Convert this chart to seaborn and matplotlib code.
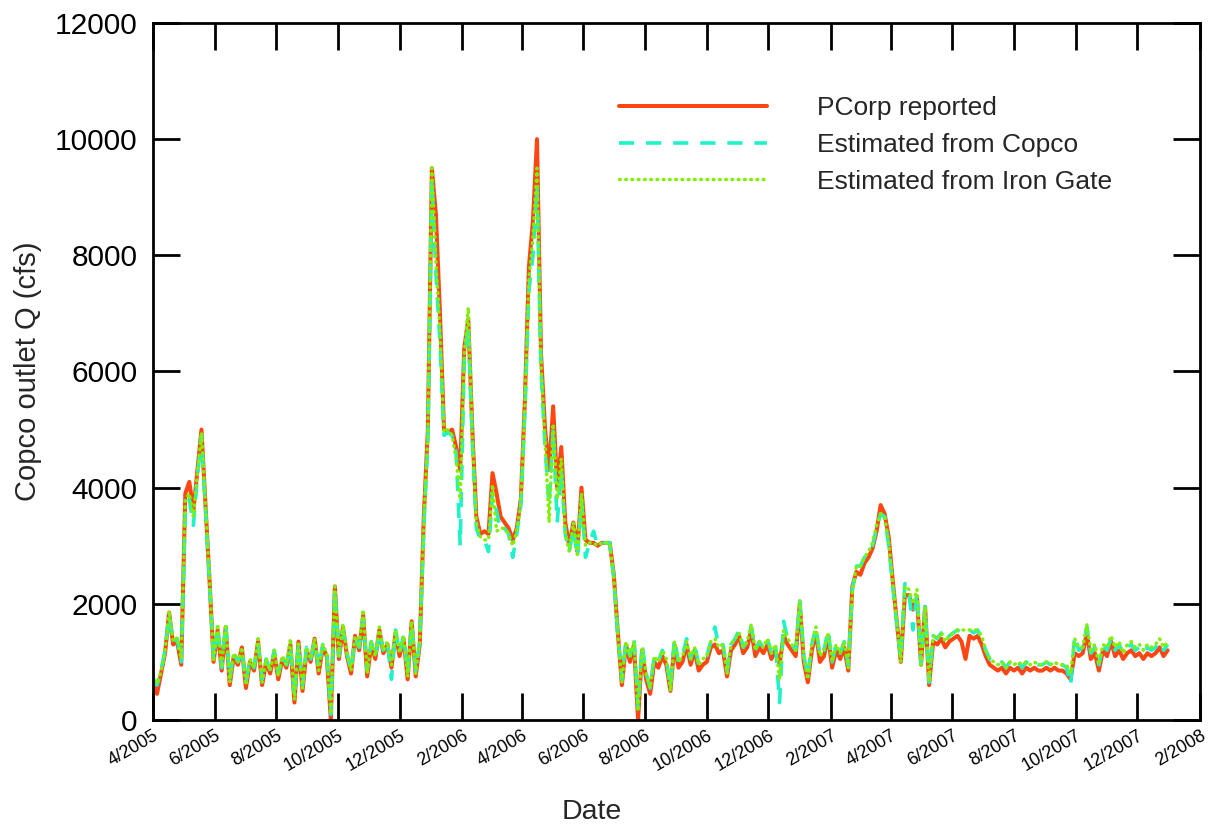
import pandas as pd
import seaborn as sns
import matplotlib.pyplot as plt
import matplotlib.dates as mdates
from matplotlib.ticker import FuncFormatter

# Copco outlet flow (cfs), values every 4 days from 4/1/2005
pcorp = [
    700, 450, 800, 1150, 1850, 1300, 1350, 950, 3900, 4100,
    3600, 4300, 5000, 3700, 2400, 1000, 1550, 850, 1600, 600,
    1100, 950, 1250, 550, 1000, 850, 1350, 600, 1000, 800,
    1150, 700, 1050, 900, 1300, 300, 1350, 500, 1200, 1000,
    1400, 800, 1250, 1100, 0, 2300, 1050, 1600, 1100, 800,
    1450, 1200, 1800, 750, 1300, 1050, 1550, 1150, 1300, 900,
    1500, 1100, 1400, 700, 1700, 750, 1300, 3500, 5000, 9500,
    8700, 7000, 5000, 4950, 5000, 4700, 4300, 6400, 6900, 5000,
    3500, 3200, 3250, 3200, 4250, 3900, 3500, 3400, 3300, 3100,
    3300, 3800, 5500, 7800, 8600, 10000, 6300, 5000, 4300, 5400,
    4000, 4700, 3400, 3000, 3400, 2900, 4000, 3100, 3050, 3050,
    3000, 3050, 3050, 3050, 2500, 1500, 600, 1300, 1000, 1300,
    0, 1200, 700, 450, 1000, 900, 1100, 950, 500, 1300,
    900, 1000, 1300, 950, 1200, 850, 950, 1000, 1250, 1300,
    1150, 1200, 750, 1200, 1300, 1450, 1150, 1250, 1550, 1100,
    1250, 1150, 1300, 1050, 1200, 950, 1450, 1300, 1200, 1100,
    2000, 1000, 650, 1200, 1500, 1000, 1100, 1450, 900, 1200,
    1050, 1250, 850, 2300, 2550, 2500, 2700, 2800, 2950, 3250,
    3700, 3550, 3150, 2400, 1700, 1000, 2150, 2150, 1900, 2100,
    950, 1950, 600, 1350, 1300, 1400, 1250, 1350, 1400, 1450,
    1350, 1050, 1450, 1400, 1450, 1300, 1100, 950, 900, 850,
    900, 800, 900, 850, 900, 800, 900, 850, 900, 850,
    850, 900, 850, 900, 850, 850, 800, 700, 1150, 1100,
    1150, 1500, 1050, 1150, 850, 1200, 1100, 1350, 1100, 1200,
    1050, 1150, 1200, 1100, 1150, 1050, 1150, 1100, 1150, 1250,
    1100, 1200,
]

copco = [
    720, 600, 850, 1200, 1800, 1330, 1400, 1000, 3600, 3800,
    3350, 4200, 4900, 3650, 2350, 1050, 1600, 900, 1650, 700,
    1150, 1000, 1200, 650, 1050, 900, 1300, 700, 1050, 850,
    1200, 800, 1100, 950, 1250, 400, 1300, 600, 1250, 1050,
    1350, 900, 1300, 1150, 100, 2250, 1100, 1550, 1150, 850,
    1400, 1250, 1750, 850, 1350, 1100, 1500, 1200, 1350, 700,
    1550, 1150, 1450, 800, 1650, 850, 1350, 3300, 4800, 9300,
    7700, 6500, 4900, 4950, 4900, 4600, 3000, 6200, 6800, 4800,
    3300, 3100, 3100, 2900, 3900, 3600, 3250, 3300, 3200, 2800,
    3200, 3700, 5300, 7400, 8000, 9200, 6000, 4700, 3700, 5000,
    3400, 4300, 3200, 2900, 3300, 2800, 3800, 2800, 3050, 3250,
    3000, 3050, 3050, 3050, 2450, 1450, 700, 1350, 1100, 1400,
    200, 1300, 800, 550, 1100, 1000, 1200, 1050, 550, 1400,
    1000, 1100, 1400, 1050, 1300, 950, 1050, 1100, 1350, 1600,
    1250, 1300, 850, 1300, 1400, 1550, 1250, 1350, 1600, 1200,
    1350, 1250, 1400, 1150, 1300, 300, 1700, 1400, 1300, 1200,
    2050, 1100, 750, 1300, 1600, 1100, 1200, 1550, 1000, 1300,
    1150, 1350, 950, 2250, 2650, 2650, 2800, 2850, 3000, 3300,
    3550, 3500, 3000, 2300, 1650, 1050, 2350, 2200, 1550, 2200,
    950, 1950, 650, 1450, 1400, 1500, 1350, 1450, 1500, 1550,
    1500, 1500, 1550, 1500, 1550, 1400, 1200, 1050, 1000, 950,
    1000, 900, 1000, 950, 1000, 900, 1000, 950, 1000, 950,
    950, 1000, 950, 1000, 950, 950, 900, 600, 1450, 1200,
    1250, 1600, 1150, 1250, 950, 1300, 1200, 1400, 1200, 1300,
    1150, 1250, 1300, 1200, 1250, 1150, 1250, 1200, 1250, 1350,
    1200, 1300,
]

iron_gate = [
    760, 620, 830, 1180, 1880, 1350, 1420, 1050, 3800, 3900,
    3500, 4250, 4950, 3700, 2400, 1000, 1650, 900, 1650, 650,
    1150, 1000, 1250, 600, 1050, 900, 1400, 650, 1050, 850,
    1200, 750, 1100, 950, 1400, 350, 1350, 550, 1250, 1050,
    1400, 850, 1300, 1150, 100, 2300, 1100, 1650, 1150, 850,
    1450, 1250, 1900, 800, 1350, 1100, 1600, 1200, 1350, 950,
    1550, 1150, 1450, 750, 1700, 800, 1350, 3400, 4900, 9500,
    7900, 6700, 4950, 5000, 4900, 4500, 3800, 6300, 7100, 4900,
    3400, 3150, 3100, 3100, 4050, 3250, 3300, 3300, 3200, 3000,
    3250, 3750, 5400, 7600, 8300, 9500, 6100, 4800, 3400, 5100,
    3800, 4500, 3200, 2900, 3400, 2850, 3900, 3000, 3050, 3050,
    3000, 3050, 3050, 3050, 2450, 1450, 650, 1350, 1100, 1350,
    150, 1250, 800, 550, 1100, 1000, 1200, 1050, 500, 1350,
    1000, 1100, 1350, 1050, 1250, 950, 1050, 1100, 1350, 1400,
    1250, 1300, 800, 1300, 1400, 1500, 1250, 1350, 1650, 1200,
    1350, 1250, 1400, 1150, 1300, 700, 1550, 1400, 1300, 1200,
    2050, 1100, 700, 1300, 1600, 1100, 1200, 1500, 1000, 1300,
    1150, 1350, 900, 2200, 2650, 2650, 2800, 2900, 3050, 3350,
    3550, 3500, 3050, 2350, 1700, 1000, 2300, 2250, 2000, 2250,
    950, 1950, 650, 1450, 1400, 1500, 1350, 1450, 1500, 1550,
    1550, 1550, 1550, 1550, 1550, 1450, 1200, 1050, 1000, 950,
    1000, 900, 1000, 950, 1000, 950, 1000, 950, 1000, 950,
    950, 1000, 950, 1000, 950, 950, 950, 800, 1400, 1250,
    1250, 1650, 1200, 1300, 950, 1300, 1250, 1450, 1250, 1350,
    1150, 1300, 1350, 1250, 1300, 1200, 1300, 1250, 1300, 1400,
    1250, 1350,
]

dates = pd.date_range("2005-04-01", periods=len(pcorp), freq="4D")
df = pd.DataFrame({"date": dates, "pcorp": pcorp, "copco": copco, "iron_gate": iron_gate})

sns.set_style("ticks")
plt.rcParams["font.family"] = ["Liberation Sans", "DejaVu Sans"]

fig = plt.figure(figsize=(12.11, 8.27), dpi=100)
ax = fig.add_axes([0.1263, 0.1294, 0.8646, 0.8428])

sns.lineplot(data=df, x="date", y="pcorp", ax=ax, color="#FF4612", linewidth=2.9,
             label="PCorp reported")
sns.lineplot(data=df, x="date", y="copco", ax=ax, color="#1EF2C8", linewidth=2.6,
             linestyle=(0, (4.2, 3.3)), label="Estimated from Copco")
sns.lineplot(data=df, x="date", y="iron_gate", ax=ax, color="#80F000", linewidth=2.5,
             linestyle=(0, (0.2, 1.6)), dash_capstyle="round", label="Estimated from Iron Gate")

ax.set_xlim(pd.Timestamp("2005-04-01"), pd.Timestamp("2008-02-01"))
ax.set_ylim(0, 12000)
ax.set_yticks(range(0, 12001, 2000))
ax.xaxis.set_major_locator(mdates.MonthLocator(bymonth=[2, 4, 6, 8, 10, 12]))
ax.xaxis.set_major_formatter(FuncFormatter(
    lambda v, pos: f"{mdates.num2date(v).month}/{mdates.num2date(v).year}"))

ax.tick_params(axis="both", which="major", direction="in", length=19.5, width=2,
               top=True, right=True, colors="black")
ax.tick_params(axis="y", labelsize=21.5, pad=11)
ax.tick_params(axis="x", labelsize=13, pad=5)
for lab in ax.get_xticklabels():
    lab.set_rotation(30)
    lab.set_ha("right")
    lab.set_va("top")
    lab.set_rotation_mode("anchor")

for sp in ax.spines.values():
    sp.set_linewidth(2)
    sp.set_color("black")

ax.set_xlabel("Date", fontsize=20.5)
ax.xaxis.set_label_coords(0.419, -0.114)
ax.set_ylabel("Copco outlet Q (cfs)", fontsize=21, labelpad=9)

ax.legend(loc="upper left", bbox_to_anchor=(0.445, 0.895), frameon=False,
          fontsize=19, handlelength=5.6, handletextpad=1.9, labelspacing=0.48,
          borderpad=0, borderaxespad=0)

fig.savefig("out.png", dpi=100)
